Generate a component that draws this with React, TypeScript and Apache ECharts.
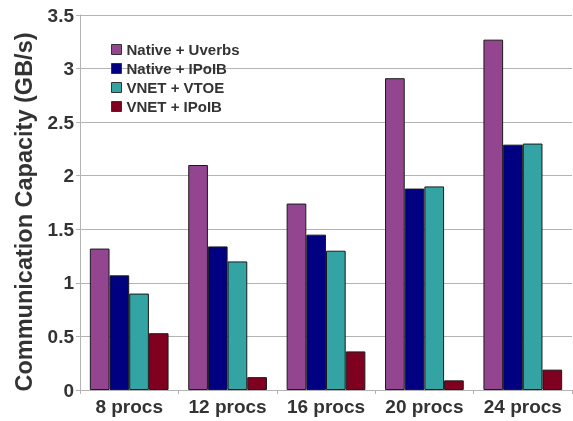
import React, { useEffect, useRef } from "react";
import * as echarts from "echarts";

const categories = ["8 procs", "12 procs", "16 procs", "20 procs", "24 procs"];
const seriesNames = ["Native + Uverbs", "Native + IPoIB", "VNET + VTOE", "VNET + IPoIB"];
const nativeUverbs = [1.32, 2.1, 1.74, 2.91, 3.27];
const nativeIpoib = [1.07, 1.34, 1.45, 1.88, 2.29];
const vnetVtoe = [0.9, 1.2, 1.3, 1.9, 2.3];
const vnetIpoib = [0.53, 0.12, 0.36, 0.09, 0.19];
const colors = ["#93468F", "#000080", "#33A3A3", "#800020"];
const yTitle = "Communication Capacity (GB/s)";

export default function App() {
  const ref = useRef<HTMLDivElement>(null);
  useEffect(() => {
    if (!ref.current) return;
    const chart = echarts.init(ref.current, null, { renderer: "svg" });
    const values = [nativeUverbs, nativeIpoib, vnetVtoe, vnetIpoib];
    chart.setOption({
      animation: false,
      textStyle: { fontFamily: "Liberation Sans" },
      grid: { left: 80, right: 1, top: 15, bottom: 31 },
      graphic: [
        {
          type: "text",
          x: 24,
          y: 212,
          rotation: Math.PI / 2,
          style: {
            text: yTitle,
            fontSize: 23.5,
            fontWeight: "bold",
            fill: "#333",
            fontFamily: "Liberation Sans",
            align: "center",
            verticalAlign: "middle",
          },
        },
      ],
      legend: {
        orient: "vertical",
        left: 106,
        top: 36,
        itemWidth: 10,
        itemHeight: 10,
        itemGap: 2,
        icon: "rect",
        itemStyle: { borderColor: "#333", borderWidth: 1 },
        textStyle: { fontSize: 15, fontWeight: "bold", color: "#333", fontFamily: "Liberation Sans", lineHeight: 17 },
        data: seriesNames,
      },
      xAxis: {
        type: "category",
        data: categories,
        axisLine: { lineStyle: { color: "#b3b3b3" } },
        axisTick: { show: true, length: 4, lineStyle: { color: "#b3b3b3" } },
        axisLabel: { interval: 0, fontSize: 19, fontWeight: "bold", color: "#333", margin: 7, fontFamily: "Liberation Sans" },
      },
      yAxis: {
        type: "value",
        min: 0,
        max: 3.5,
        interval: 0.5,
        axisLine: { show: true, lineStyle: { color: "#b3b3b3" } },
        axisTick: { show: true, length: 4, lineStyle: { color: "#b3b3b3" } },
        axisLabel: { fontSize: 19, fontWeight: "bold", color: "#333", margin: 6, fontFamily: "Liberation Sans" },
        splitLine: { lineStyle: { color: "#b3b3b3" } },
      },
      series: seriesNames.map((name, i) => ({
        name,
        type: "bar",
        data: values[i],
        barGap: "0%",
        barCategoryGap: "20%",
        itemStyle: { color: colors[i], borderColor: "#1a1a1a", borderWidth: 1 },
      })),
    });
    return () => chart.dispose();
  }, []);
  return <div ref={ref} style={{ position: "fixed", left: 0, top: 0, width: 573, height: 421 }} />;
}
